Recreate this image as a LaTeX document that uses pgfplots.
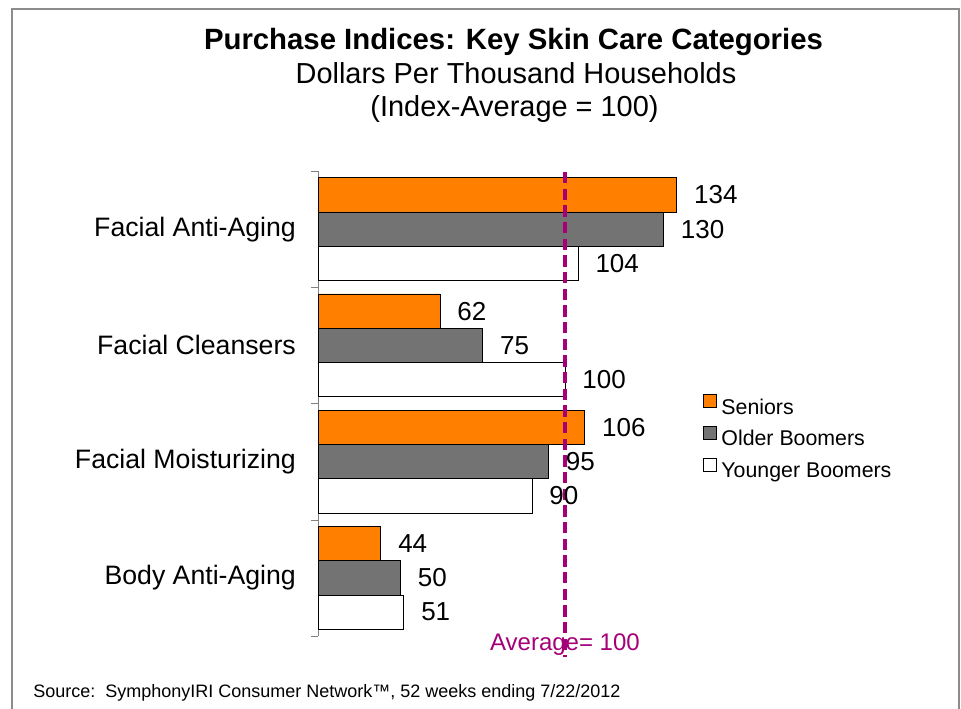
\documentclass[border=0pt]{standalone}
\usepackage{fontspec}
\setmainfont{Liberation Sans}
\usepackage{pgfplots}
\pgfplotsset{compat=1.18}
\definecolor{senior}{RGB}{255,127,0}
\definecolor{older}{RGB}{115,115,115}
\definecolor{avgline}{RGB}{165,0,120}
\definecolor{framegray}{RGB}{140,140,140}

\begin{document}
\begin{tikzpicture}
% page frame and texts, in pixels of the reference
\begin{scope}[x=0.75pt,y=-0.75pt]
\path[use as bounding box] (0,0) rectangle (961,709);
\draw[framegray, line width=1.5pt] (11.8,709) -- (11.8,9) -- (959.3,9) -- (959.3,709);
\node[anchor=base, inner sep=0pt, font=\fontsize{22}{26}\selectfont\bfseries] at (513.5,50) {Purchase Indices: Key Skin Care Categories};
\node[anchor=base, inner sep=0pt, font=\fontsize{21.7}{26}\selectfont] at (516,84) {Dollars Per Thousand Households};
\node[anchor=base, inner sep=0pt, font=\fontsize{21.7}{26}\selectfont] at (514.5,117) {(Index-Average = 100)};
\node[anchor=base west, inner sep=0pt, font=\fontsize{13.5}{16}\selectfont] at (33,697) {Source:\ \ SymphonyIRI Consumer Network™,\ 52 weeks ending 7/22/2012};
\end{scope}

\begin{axis}[
  at={(238.8pt,-477pt)}, anchor=south west,
  scale only axis, width=308.2pt, height=348.75pt,
  xbar, bar width=0.295,
  xmin=25, xmax=150, ymin=-0.5, ymax=3.5,
  clip=false,
  axis x line=none, axis y line*=left,
  y axis line style={draw=gray},
  ytick={-0.5,0.5,1.5,2.5,3.5}, y tick label as interval,
  yticklabels={Body Anti-Aging, Facial Moisturizing, Facial Cleansers, Facial Anti-Aging},
  tick align=outside, major tick length=5.25pt, tick style={draw=gray},
  yticklabel style={font=\fontsize{20}{24}\selectfont, inner sep=0pt},
  yticklabel shift=11.5pt,
  /pgf/number format/assume math mode=true,
  every node near coord/.append style={font=\fontsize{19.5}{23}\selectfont, inner sep=0pt, anchor=west, xshift=12.75pt, text=black},
  legend style={at={(0.936,0.52)}, anchor=north west, draw=none, fill=none, inner sep=0pt,
    font=\fontsize{16}{19}\selectfont, row sep=5.5pt,
    nodes={inner sep=0pt, text height=11.5pt, text depth=3.5pt},
    /tikz/every odd column/.append style={column sep=3.5pt}},
  legend cell align=left,
  legend image code/.code={\draw[#1] (0pt,1pt) rectangle (9.5pt,10.5pt);},
]
\addplot[fill=senior, draw=black, line width=0.6pt, bar shift=0.295, nodes near coords]
  coordinates {(134,3) (62,2) (106,1) (44,0)};
\addplot[fill=older, draw=black, line width=0.6pt, bar shift=0, nodes near coords]
  coordinates {(130,3) (75,2) (95,1) (50,0)};
\addplot[fill=white, draw=black, line width=0.6pt, bar shift=-0.295, nodes near coords]
  coordinates {(104,3) (100,2) (90,1) (51,0)};
\legend{Seniors, Older Boomers, Younger Boomers}
\addplot[sharp plot, avgline, line width=3pt, dash pattern=on 8.5pt off 4pt, forget plot]
  coordinates {(100,3.49) (100,-0.68)};
\node[text=avgline, font=\fontsize{18}{21}\selectfont, inner sep=0pt] at (axis cs:100,-0.577) {Average= 100};
\end{axis}
\end{tikzpicture}
\end{document}
